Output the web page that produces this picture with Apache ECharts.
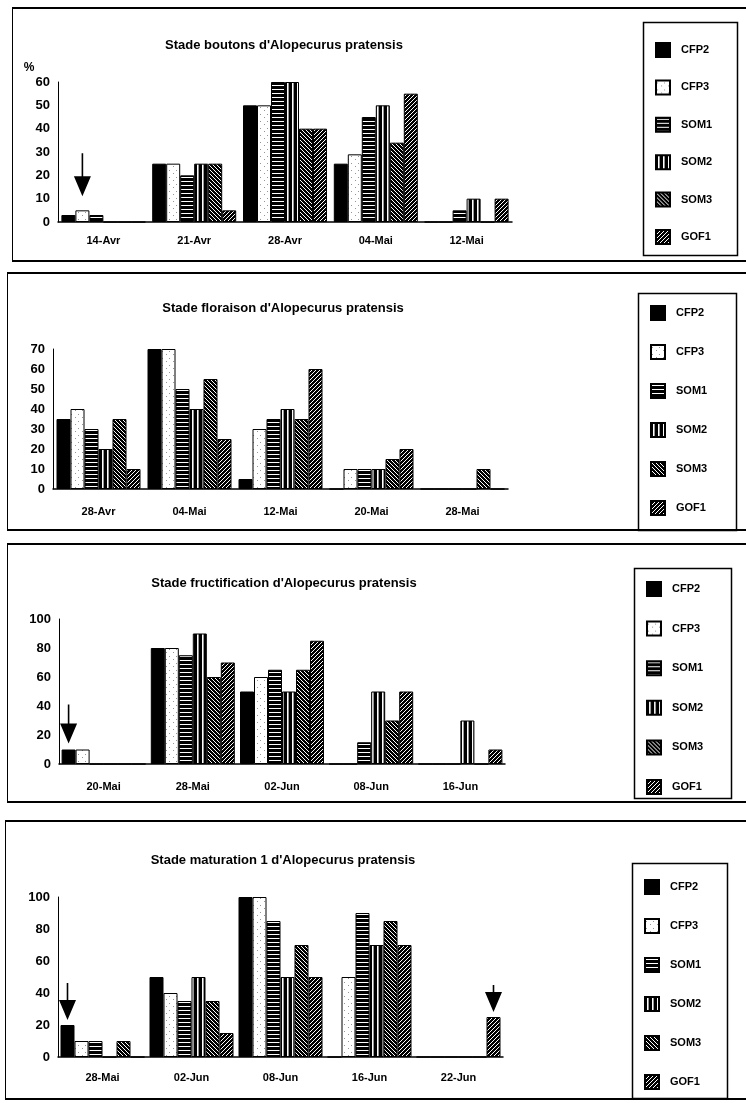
<!DOCTYPE html>
<html><head><meta charset="utf-8">
<script src="https://cdn.jsdelivr.net/npm/echarts@6/dist/echarts.min.js"></script>
<style>
html,body{margin:0;padding:0;background:#fff;}
#wrap{position:relative;width:746px;height:1103px;overflow:hidden;background:#fff;}
.chart{position:absolute;left:0;width:746px;}
.box{position:absolute;box-sizing:border-box;border-left:1px solid #000;border-top:2px solid #000;border-bottom:2px solid #000;pointer-events:none;}
</style></head>
<body><div id="wrap"></div>
<script>
const seriesNames = ['CFP2', 'CFP3', 'SOM1', 'SOM2', 'SOM3', 'GOF1'];

// Panel 1 : Stade boutons
const title1 = "Stade boutons d'Alopecurus pratensis";
const dates1 = ['14-Avr', '21-Avr', '28-Avr', '04-Mai', '12-Mai'];
const cfp2_1 = [3, 25, 50, 25, 0];
const cfp3_1 = [5, 25, 50, 29, 0];
const som1_1 = [3, 20, 60, 45, 5];
const som2_1 = [0, 25, 60, 50, 10];
const som3_1 = [0, 25, 40, 34, 0];
const gof1_1 = [0, 5, 40, 55, 10];

// Panel 2 : Stade floraison
const title2 = "Stade floraison d'Alopecurus pratensis";
const dates2 = ['28-Avr', '04-Mai', '12-Mai', '20-Mai', '28-Mai'];
const cfp2_2 = [35, 70, 5, 0, 0];
const cfp3_2 = [40, 70, 30, 10, 0];
const som1_2 = [30, 50, 35, 10, 0];
const som2_2 = [20, 40, 40, 10, 0];
const som3_2 = [35, 55, 35, 15, 10];
const gof1_2 = [10, 25, 60, 20, 0];

// Panel 3 : Stade fructification
const title3 = "Stade fructification d'Alopecurus pratensis";
const dates3 = ['20-Mai', '28-Mai', '02-Jun', '08-Jun', '16-Jun'];
const cfp2_3 = [10, 80, 50, 0, 0];
const cfp3_3 = [10, 80, 60, 0, 0];
const som1_3 = [0, 75, 65, 15, 0];
const som2_3 = [0, 90, 50, 50, 30];
const som3_3 = [0, 60, 65, 30, 0];
const gof1_3 = [0, 70, 85, 50, 10];

// Panel 4 : Stade maturation 1
const title4 = "Stade maturation 1 d'Alopecurus pratensis";
const dates4 = ['28-Mai', '02-Jun', '08-Jun', '16-Jun', '22-Jun'];
const cfp2_4 = [20, 50, 100, 0, 0];
const cfp3_4 = [10, 40, 100, 50, 0];
const som1_4 = [10, 35, 85, 90, 0];
const som2_4 = [0, 50, 50, 70, 0];
const som3_4 = [10, 35, 70, 85, 0];
const gof1_4 = [0, 15, 50, 70, 25];

// y-axis scales
const yMax = [60, 70, 100, 100];
const yStep = [10, 10, 20, 20];

// arrows: [series name, category, value]
const arrows1 = [['CFP3', '14-Avr', 5]];
const arrows3 = [['CFP2', '20-Mai', 10]];
const arrows4 = [['CFP2', '28-Mai', 20], ['GOF1', '22-Jun', 25]];

const FONT = '"Liberation Sans", Arial, Helvetica, sans-serif';

function tile(w, h, fn) {
  const c = document.createElement('canvas');
  c.width = w; c.height = h;
  const ctx = c.getContext('2d');
  const img = ctx.createImageData(w, h);
  for (let y = 0; y < h; y++) for (let x = 0; x < w; x++) {
    const v = fn(x, y), k = (y * w + x) * 4;
    img.data[k] = v; img.data[k + 1] = v; img.data[k + 2] = v; img.data[k + 3] = 255;
  }
  ctx.putImageData(img, 0, 0);
  return { image: c, repeat: 'repeat' };
}
const fills = [
  '#000000',
  tile(7, 7, (x, y) => ((x === 1 && y === 2) || (x === 5 && y === 5)) ? 150 : 255),
  tile(4, 4, (x, y) => y === 1 ? 255 : 0),
  tile(5, 5, (x, y) => x === 2 ? 255 : (x === 3 ? 150 : 0)),
  tile(4, 4, (x, y) => ((x - y + 8) % 4 === 0) ? 255 : 0),
  tile(4, 4, (x, y) => ((x + y) % 4 === 0) ? 255 : 0)
];

function arrowPath(L) {
  const b = L - 20;
  return 'path://M7.7 0 L9.3 0 L9.3 ' + b + ' L17 ' + b + ' L8.5 ' + L + ' L0 ' + b + ' L7.7 ' + b + ' Z';
}

const panels = [
  { top: 0, height: 265, box: [12, 7, 262], grid: [58, 234, 82, 43], title: title1, tx: 284, ty: 45,
    dates: dates1, values: [cfp2_1, cfp3_1, som1_1, som2_1, som3_1, gof1_1], xm: 13,
    lbox: [643, 22, 94, 233], lfirst: 50, lstep: 37.4, pct: true,
    arrows: arrows1, arrowStyle: [[43, 14]] },
  { top: 265, height: 270, box: [7, 272, 531], grid: [53, 238, 84, 46], title: title2, tx: 283, ty: 43,
    dates: dates2, values: [cfp2_2, cfp3_2, som1_2, som2_2, som3_2, gof1_2], xm: 17,
    lbox: [638, 28, 98, 237], lfirst: 48, lstep: 39, arrows: [], arrowStyle: [] },
  { top: 535, height: 270, box: [7, 543, 803], grid: [59, 241, 84, 41], title: title3, tx: 284, ty: 48,
    dates: dates3, values: [cfp2_3, cfp3_3, som1_3, som2_3, som3_3, gof1_3], xm: 17,
    lbox: [634, 33, 97, 230], lfirst: 54, lstep: 39.6, arrows: arrows3, arrowStyle: [[39, 6]] },
  { top: 805, height: 298, box: [5, 820, 1100], grid: [58, 243, 92, 46], title: title4, tx: 283, ty: 55,
    dates: dates4, values: [cfp2_4, cfp3_4, som1_4, som2_4, som3_4, gof1_4], xm: 15,
    lbox: [632, 58, 95, 235], lfirst: 82, lstep: 39, arrows: arrows4, arrowStyle: [[37, 5], [27, 5]] }
];

const wrap = document.getElementById('wrap');
panels.forEach((p, pi) => {
  const b = document.createElement('div');
  b.className = 'box';
  b.style.left = p.box[0] + 'px'; b.style.top = p.box[1] + 'px';
  b.style.width = (746 - p.box[0]) + 'px'; b.style.height = (p.box[2] - p.box[1]) + 'px';
  const d = document.createElement('div');
  d.className = 'chart';
  d.style.top = p.top + 'px'; d.style.height = p.height + 'px';
  wrap.appendChild(d);
  wrap.appendChild(b);

  const graphic = [
    { type: 'text', x: p.tx, y: p.ty, style: { text: p.title, fill: '#000', fontSize: 13, fontWeight: 'bold', fontFamily: FONT, align: 'center', verticalAlign: 'middle' } },
    { type: 'rect', shape: { x: p.lbox[0] + 0.5, y: p.lbox[1] + 0.5, width: p.lbox[2], height: p.lbox[3] }, style: { fill: 'none', stroke: '#000', lineWidth: 1.5 }, z: 0 }
  ];
  if (p.pct) graphic.push({ type: 'text', x: 29, y: 68, style: { text: '%', fill: '#000', fontSize: 12, fontWeight: 'bold', fontFamily: FONT, align: 'center', verticalAlign: 'middle' } });

  const series = seriesNames.map((n, i) => {
    const s = {
      name: n, type: 'bar', data: p.values[i], barWidth: 14, barGap: '0%',
      itemStyle: { color: fills[i], borderColor: '#000', borderWidth: 1 },
      emphasis: { disabled: true }
    };
    const mine = p.arrows.map((a, k) => [a, p.arrowStyle[k]]).filter(e => e[0][0] === n);
    if (mine.length) {
      s.markPoint = {
        silent: true,
        label: { show: false },
        itemStyle: { color: '#000' },
        data: mine.map(e => ({ coord: [e[0][1], e[0][2]], symbol: arrowPath(e[1][0]), symbolSize: [17, e[1][0]], symbolOffset: [0, -(e[1][0] / 2 + e[1][1])] }))
      };
    }
    return s;
  });

  const chart = echarts.init(d, null, { renderer: 'canvas' });
  chart.setOption({
    animation: false,
    textStyle: { fontFamily: FONT },
    grid: { left: p.grid[0], right: p.grid[1], top: p.grid[2], bottom: p.grid[3], containLabel: false },
    xAxis: { type: 'category', data: p.dates,
      axisLine: { lineStyle: { color: '#000', width: 1.5 } }, axisTick: { show: false },
      axisLabel: { color: '#000', fontWeight: 'bold', fontSize: 11, margin: p.xm, interval: 0, fontFamily: FONT } },
    yAxis: { type: 'value', min: 0, max: yMax[pi], interval: yStep[pi],
      axisLine: { show: true, lineStyle: { color: '#000', width: 1 } }, axisTick: { show: false }, splitLine: { show: false },
      axisLabel: { color: '#000', fontWeight: 'bold', fontSize: 13, margin: 8, fontFamily: FONT } },
    legend: { orient: 'vertical', left: p.lbox[0] + 12, top: p.lfirst - 8, itemGap: p.lstep - 16, padding: 0,
      height: 400, itemWidth: 14, itemHeight: 14, icon: 'rect', selectedMode: false, data: seriesNames,
      textStyle: { color: '#000', fontSize: 11, lineHeight: 14, fontWeight: 'bold', fontFamily: FONT, padding: [0, 0, 0, 6] } },
    graphic: graphic,
    series: series
  });
});
</script>
</body></html>
